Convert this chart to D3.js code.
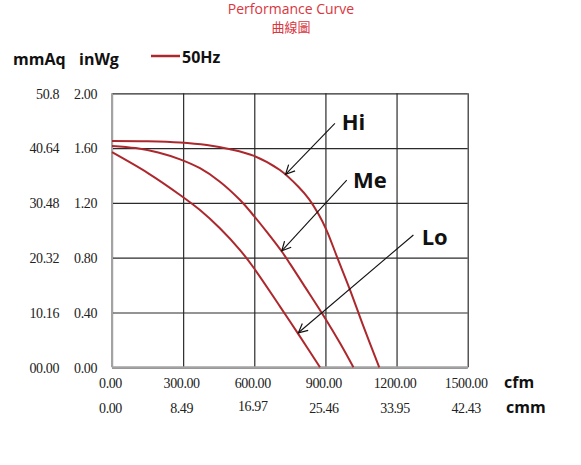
<!DOCTYPE html>
<html>
<head>
<meta charset="utf-8">
<script src="https://cdn.jsdelivr.net/npm/d3@7"></script>
<style>
    body { margin: 0; background: #fff; }
    .grid line { stroke: #2b2b2b; stroke-width: 1.2; }
    .grid path { display: none; }
    .tick-label { font-family: "Liberation Serif", "Times New Roman", serif; font-size: 14px; fill: #222; letter-spacing: -0.4px; }
    .unit { font-family: "Open Sans", sans-serif; font-weight: bold; font-size: 16px; fill: #111; }
    .note { font-family: "Open Sans", sans-serif; font-weight: bold; font-size: 22px; fill: #111; }
</style>
</head>
<body>
<div id="chart"></div>
<script>
// x axis: airflow
const cfmTicks = [0, 300, 600, 900, 1200, 1500];
const cmmLabels = ["0.00", "8.49", "16.97", "25.46", "33.95", "42.43"];
// y axis: static pressure
const inWgTicks = [0, 0.4, 0.8, 1.2, 1.6, 2.0];
const mmAqLabels = ["00.00", "10.16", "20.32", "30.48", "40.64", "50.8"];

// curves, [cfm, inWg]
const hiCurve = [[0, 1.652], [150, 1.650], [287, 1.641], [400, 1.622], [498, 1.592], [599, 1.543],
    [708, 1.440], [786, 1.318], [830, 1.230], [870, 1.120], [905, 1.000], [948, 0.810],
    [1004, 0.564], [1060, 0.300], [1127, 0]];
const meCurve = [[0, 1.616], [100, 1.600], [195, 1.568], [287, 1.518], [371, 1.453], [455, 1.355],
    [540, 1.221], [599, 1.104], [652, 0.990], [716, 0.845], [751, 0.755], [807, 0.605],
    [898, 0.360], [962, 0.175], [1018, 0]];
const loCurve = [[0, 1.570], [153, 1.416], [287, 1.258], [371, 1.148], [455, 1.015], [540, 0.856],
    [599, 0.723], [708, 0.445], [786, 0.242], [877, 0]];

// speed labels: name, arrow tip, arrow tail, text anchor (cfm, inWg)
const notes = [
    { name: "Hi", tip: [732, 1.409], tail: [940, 1.781], text: [969, 1.732] },
    { name: "Me", tip: [716, 0.850], tail: [990, 1.367], text: [1016, 1.309] },
    { name: "Lo", tip: [786, 0.252], tail: [1271, 0.966], text: [1306, 0.893] }
];

const W = 581, H = 465;
const MARGIN = { LEFT: 112, TOP: 93.3 };
const WIDTH = 355.7, HEIGHT = 274;
const CURVE_COLOR = "#ad282d";

const svg = d3.select("#chart").append("svg")
    .attr("width", W)
    .attr("height", H);

// title
svg.append("text")
    .attr("x", 291).attr("y", 14)
    .attr("text-anchor", "middle")
    .attr("font-family", "Open Sans, sans-serif")
    .attr("font-size", "14px")
    .attr("fill", "#d9363e")
    .text("Performance Curve");
svg.append("text")
    .attr("x", 291).attr("y", 32)
    .attr("text-anchor", "middle")
    .attr("font-family", "Noto Sans CJK TC, sans-serif")
    .attr("font-size", "13px")
    .attr("fill", "#d9363e")
    .text("曲線圖");

// unit headers + legend
svg.append("text").attr("class", "unit").attr("x", 13).attr("y", 65).text("mmAq");
svg.append("text").attr("class", "unit").attr("x", 79).attr("y", 65).text("inWg");
svg.append("line")
    .attr("x1", 151).attr("x2", 180)
    .attr("y1", 56).attr("y2", 56)
    .attr("stroke", CURVE_COLOR)
    .attr("stroke-width", 2.5);
svg.append("text").attr("class", "unit").attr("x", 182).attr("y", 63).attr("font-size", "15px").text("50Hz");

const g = svg.append("g")
    .attr("transform", `translate(${MARGIN.LEFT}, ${MARGIN.TOP})`);

// scales
const x = d3.scaleLinear().domain([0, 1500]).range([0, WIDTH]);
const y = d3.scaleLinear().domain([0, 2]).range([HEIGHT, 0]);

// grid
g.append("g")
    .attr("class", "grid")
    .call(d3.axisLeft(y).tickValues(inWgTicks).tickSize(-WIDTH).tickFormat(""));
g.append("g")
    .attr("class", "grid")
    .attr("transform", `translate(0, ${HEIGHT})`)
    .call(d3.axisBottom(x).tickValues(cfmTicks).tickSize(HEIGHT).tickFormat(""))
    .selectAll("line").attr("y2", -HEIGHT);

// left and bottom axis lines are lighter
g.append("line")
    .attr("x1", 0).attr("x2", 0).attr("y1", 0).attr("y2", HEIGHT)
    .attr("stroke", "#a3a3a3").attr("stroke-width", 2);
g.append("line")
    .attr("x1", 0).attr("x2", WIDTH).attr("y1", HEIGHT).attr("y2", HEIGHT)
    .attr("stroke", "#a3a3a3").attr("stroke-width", 2);

// y tick labels (two columns)
g.selectAll(".inwg-label").data(inWgTicks).enter().append("text")
    .attr("class", "tick-label")
    .attr("x", -15)
    .attr("y", d => y(d) + 5.3)
    .attr("text-anchor", "end")
    .text(d3.format(".2f"));
g.selectAll(".mmaq-label").data(inWgTicks).enter().append("text")
    .attr("class", "tick-label")
    .attr("x", -53)
    .attr("y", d => y(d) + 5.3)
    .attr("text-anchor", "end")
    .text((d, i) => mmAqLabels[i]);

// x tick labels (two rows)
g.selectAll(".cfm-label").data(cfmTicks).enter().append("text")
    .attr("class", "tick-label")
    .attr("x", d => x(d) - 1.5)
    .attr("y", HEIGHT + 20.7)
    .attr("text-anchor", "middle")
    .text(d3.format(".2f"));
g.selectAll(".cmm-label").data(cfmTicks).enter().append("text")
    .attr("class", "tick-label")
    .attr("x", d => x(d) - 1.5)
    .attr("y", (d, i) => HEIGHT + (i === 2 ? 43.5 : 45.7))
    .attr("text-anchor", "middle")
    .text((d, i) => cmmLabels[i]);

svg.append("text").attr("class", "unit").attr("x", 504).attr("y", 388).attr("font-size", "17px").text("cfm");
svg.append("text").attr("class", "unit").attr("x", 506).attr("y", 413).attr("font-size", "17px").text("cmm");

// curves
const line = d3.line()
    .x(d => x(d[0]))
    .y(d => y(d[1]))
    .curve(d3.curveCatmullRom.alpha(0.5));
g.selectAll(".curve").data([hiCurve, meCurve, loCurve]).enter().append("path")
    .attr("class", "curve")
    .attr("d", line)
    .attr("fill", "none")
    .attr("stroke", CURVE_COLOR)
    .attr("stroke-width", 2);

// arrows and speed labels
svg.append("defs").append("marker")
    .attr("id", "arrow")
    .attr("viewBox", "-10 -6 12 12")
    .attr("markerWidth", 12).attr("markerHeight", 12)
    .attr("markerUnits", "userSpaceOnUse")
    .attr("orient", "auto")
    .append("path")
    .attr("d", "M-9,-4.5 L0,0 L-9,4.5")
    .attr("fill", "none")
    .attr("stroke", "#111")
    .attr("stroke-width", 1.2);

g.selectAll(".arrow").data(notes).enter().append("line")
    .attr("class", "arrow")
    .attr("x1", d => x(d.tail[0])).attr("y1", d => y(d.tail[1]))
    .attr("x2", d => x(d.tip[0])).attr("y2", d => y(d.tip[1]))
    .attr("stroke", "#111")
    .attr("stroke-width", 1.1)
    .attr("marker-end", "url(#arrow)");
g.selectAll(".note").data(notes).enter().append("text")
    .attr("class", "note")
    .attr("x", d => x(d.text[0]))
    .attr("y", d => y(d.text[1]))
    .text(d => d.name);
</script>
</body>
</html>
